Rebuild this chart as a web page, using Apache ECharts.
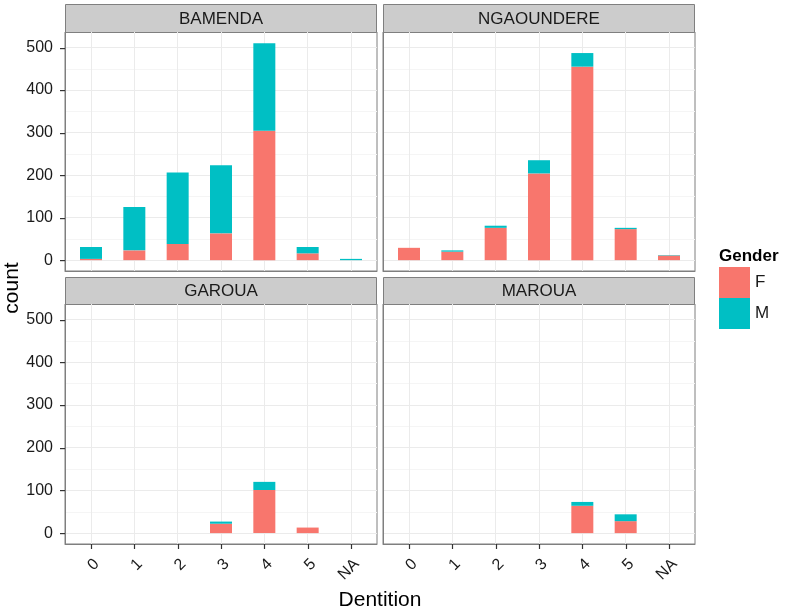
<!DOCTYPE html>
<html>
<head>
<meta charset="utf-8">
<script src="https://cdn.jsdelivr.net/npm/echarts@6/dist/echarts.min.js"></script>
<style>
html,body{margin:0;padding:0;background:#fff;}
#chart{width:787px;height:612px;}
</style>
</head>
<body>
<div id="chart"></div>
<script>
// ---- data ----
const categories = ['0', '1', '2', '3', '4', '5', 'NA'];
const cities = ['BAMENDA', 'NGAOUNDERE', 'GAROUA', 'MAROUA'];
const femaleBamenda    = [3, 23, 38, 63, 304, 16, 0];
const maleBamenda      = [28, 102, 168, 160, 206, 15, 3];
const femaleNgaoundere = [29, 20, 76, 204, 455, 73, 11];
const maleNgaoundere   = [0, 3, 5, 31, 32, 3, 1];
const femaleGaroua     = [0, 0, 0, 22, 101, 13, 0];
const maleGaroua       = [0, 0, 0, 5, 19, 0, 0];
const femaleMaroua     = [0, 0, 0, 0, 64, 28, 0];
const maleMaroua       = [0, 0, 0, 0, 9, 16, 0];
const yMajorTicks = [0, 100, 200, 300, 400, 500];
const yMinorTicks = [50, 150, 250, 350, 450];
const genders = ['F', 'M'];

const femaleByCity = [femaleBamenda, femaleNgaoundere, femaleGaroua, femaleMaroua];
const maleByCity = [maleBamenda, maleNgaoundere, maleGaroua, maleMaroua];

// ---- layout / style ----
const colF = '#F8766D', colM = '#00BFC4';
const textCol = '#1a1a1a';
const font = 'Liberation Sans, Arial, sans-serif';
const panels = [
  {left: 65, top: 32, width: 312, height: 239, stripTop: 4, stripH: 28, showX: false, showY: true},
  {left: 383, top: 32, width: 312, height: 239, stripTop: 4, stripH: 28, showX: false, showY: false},
  {left: 65, top: 304, width: 312, height: 240, stripTop: 277, stripH: 27, showX: true, showY: true},
  {left: 383, top: 304, width: 312, height: 240, stripTop: 277, stripH: 27, showX: true, showY: false}
];
const yMin = -25.5, yMax = 536.5;
const borderCol = '#7f7f7f';
const tickCol = '#333333';
const tickLen = 5;
const catIdx = categories.map((c, i) => i);

const grids = [], xAxes = [], yAxes = [], series = [], graphics = [];
panels.forEach((p, k) => {
  grids.push({
    left: p.left, top: p.top, width: p.width, height: p.height,
    show: true, backgroundColor: '#ffffff', borderColor: borderCol, borderWidth: 1,
    outerBoundsMode: 'none', containLabel: false
  });
  xAxes.push({
    type: 'value', gridIndex: k, min: -0.6, max: 6.6, position: 'bottom',
    axisLine: {show: true, onZero: false, lineStyle: {color: borderCol, width: 1}},
    axisTick: {show: false, customValues: catIdx},
    axisLabel: {show: p.showX, customValues: catIdx, rotate: 45, margin: 12,
      verticalAlign: 'top',
      fontSize: 16, color: textCol, fontFamily: font,
      formatter: v => categories[Math.round(v)]},
    splitLine: {show: true, lineStyle: {color: '#ebebeb', width: 1}}
  });
  yAxes.push({
    type: 'value', gridIndex: k, min: yMin, max: yMax, position: 'left',
    axisLine: {show: true, onZero: false, lineStyle: {color: borderCol, width: 1}},
    axisTick: {show: false, customValues: yMajorTicks},
    axisLabel: {show: p.showY, customValues: yMajorTicks, margin: 12, fontSize: 16, color: textCol, fontFamily: font},
    splitLine: {show: true, lineStyle: {color: '#ebebeb', width: 1}}
  });
  yAxes.push({
    type: 'value', gridIndex: k, min: yMin, max: yMax, position: 'left',
    axisLine: {show: false, onZero: false},
    axisTick: {show: false, customValues: yMinorTicks},
    axisLabel: {show: false, customValues: yMinorTicks},
    splitLine: {show: true, lineStyle: {color: '#f5f5f5', width: 1}}
  });
  [femaleByCity[k], maleByCity[k]].forEach((arr, g) => {
    series.push({
      type: 'bar', name: genders[g], xAxisIndex: k, yAxisIndex: 2 * k,
      stack: 'panel' + k, barWidth: 22,
      itemStyle: {color: g === 0 ? colF : colM},
      emphasis: {disabled: true},
      // value first so the stacked dimension is the count (y)
      encode: {x: 1, y: 0},
      data: arr.map((v, i) => [v, i])
    });
  });
  graphics.push({
    type: 'rect', silent: true,
    shape: {x: p.left + 0.5, y: p.stripTop + 0.5, width: p.width - 1, height: p.stripH},
    style: {fill: '#cccccc', stroke: borderCol, lineWidth: 1}
  });
  graphics.push({
    type: 'text', silent: true,
    x: p.left + p.width / 2, y: p.stripTop + p.stripH / 2 + 1,
    style: {text: cities[k], fill: textCol, font: '17px ' + font, textAlign: 'center', textVerticalAlign: 'middle'}
  });
});

graphics.push({
  type: 'text', silent: true, x: 12, y: 288, rotation: Math.PI / 2,
  style: {text: 'count', fill: '#000', font: '21px ' + font, textAlign: 'center', textVerticalAlign: 'middle'}
});
graphics.push({
  type: 'text', silent: true, x: 380, y: 600,
  style: {text: 'Dentition', fill: '#000', font: '21px ' + font, textAlign: 'center', textVerticalAlign: 'middle'}
});
graphics.push({
  type: 'text', silent: true, x: 719, y: 256,
  style: {text: 'Gender', fill: '#000', font: 'bold 17px ' + font, textAlign: 'left', textVerticalAlign: 'middle'}
});

const chart = echarts.init(document.getElementById('chart'), null, {renderer: 'canvas'});
chart.setOption({
  animation: false,
  backgroundColor: '#ffffff',
  grid: grids,
  xAxis: xAxes,
  yAxis: yAxes,
  series: series,
  legend: {
    data: genders, orient: 'vertical', left: 719, top: 267, itemGap: 0,
    itemWidth: 31, itemHeight: 31, icon: 'rect', padding: 0,
    textStyle: {fontSize: 17, color: textCol, fontFamily: font},
    selectedMode: false
  },
  graphic: graphics
});

// outward tick marks, positioned through the axes' own scales
const tickGraphics = [];
panels.forEach((p, k) => {
  if (p.showY) {
    yMajorTicks.forEach(v => {
      const yy = chart.convertToPixel({yAxisIndex: 2 * k}, v);
      const y = Math.round(yy) + 0.5;
      tickGraphics.push({type: 'rect', silent: true, z: 100,
        shape: {x: p.left - tickLen, y: y - 0.5, width: tickLen, height: 1.2},
        style: {fill: tickCol}});
    });
  }
  if (p.showX) {
    catIdx.forEach(v => {
      const xx = chart.convertToPixel({xAxisIndex: k}, v);
      const x = Math.round(xx) + 0.5;
      const b = p.top + p.height;
      tickGraphics.push({type: 'rect', silent: true, z: 100,
        shape: {x: x - 0.6, y: b, width: 1.2, height: tickLen},
        style: {fill: tickCol}});
    });
  }
});
chart.setOption({graphic: graphics.concat(tickGraphics)});
</script>
</body>
</html>
